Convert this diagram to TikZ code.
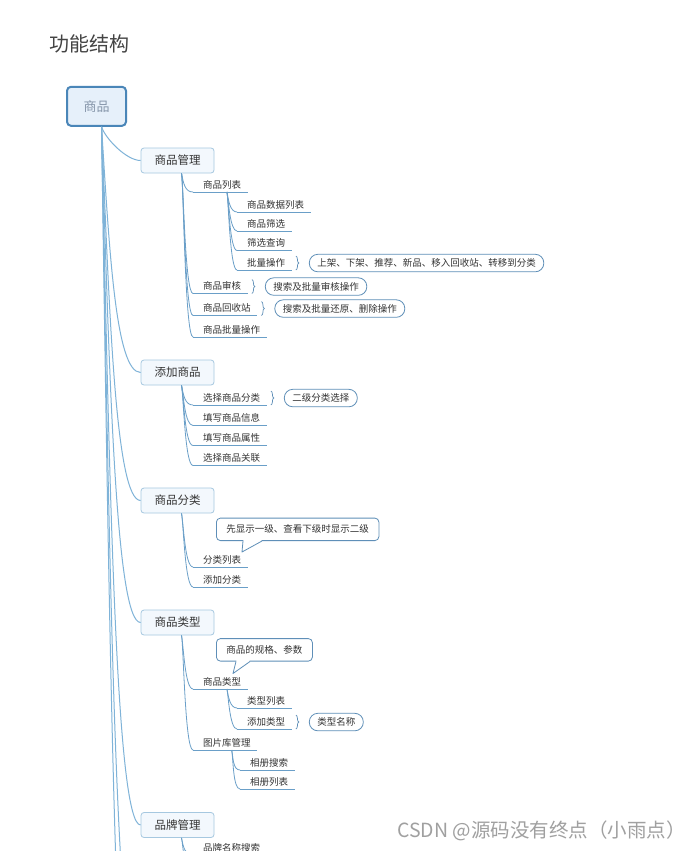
\documentclass[tikz,border=0pt]{standalone}
\usepackage{fontspec}
\setmainfont{Noto Sans CJK SC}
\usetikzlibrary{calc,decorations.pathreplacing}
\newcommand\fsz[1]{\fontsize{#1}{#1}\selectfont}
\definecolor{rootc}{HTML}{4A86B8}
\definecolor{rootfill}{HTML}{E6F0FA}
\definecolor{roottext}{HTML}{8696AA}
\definecolor{topicc}{HTML}{A6C8E0}
\definecolor{topicfill}{HTML}{F3F8FD}
\definecolor{txt}{HTML}{333333}
\definecolor{titlec}{HTML}{444444}
\definecolor{linec}{HTML}{6A9FC8}
\definecolor{rootline}{HTML}{7FB3D8}
\definecolor{pillc}{HTML}{5F8FB8}
\definecolor{wm}{HTML}{A0A0A0}
\tikzset{
  rootbox/.style={draw=rootc, line width=2pt, fill=rootfill, rounded corners=4pt, minimum width=59pt, minimum height=39pt, font=\fsz{13}, text=roottext},
  topic/.style={draw=topicc, line width=0.8pt, fill=topicfill, rounded corners=3pt, minimum width=73pt, minimum height=25pt, font=\fsz{11.5}, text=txt},
  uline/.style={draw=linec, line width=0.8pt},
  item/.style={anchor=south west, inner xsep=0pt, inner ysep=2pt, text height=8pt, text depth=1.5pt, font=\fsz{9.5}, text=txt,
    execute at begin node={\hspace*{10pt}}, execute at end node={\hspace*{6.5pt}},
    append after command={(\tikzlastnode.south west) edge[uline] (\tikzlastnode.south east)}},
  pill/.style={draw=pillc, line width=0.8pt, fill=white, rounded corners=8.5pt, minimum height=17.5pt, inner xsep=8pt, inner ysep=0pt, font=\fsz{9.5}, text=txt, anchor=west},
  callout/.style={draw=pillc, line width=0.8pt, fill=white, rounded corners=4pt, minimum height=22.5pt, inner xsep=10pt, inner ysep=0pt, font=\fsz{9.5}, text=txt, anchor=south west},
  brc/.style={draw=pillc, line width=0.7pt, decorate, decoration={brace, amplitude=3pt}},
  rconn/.style={draw=rootline, line width=1pt},
  conn/.style={draw=linec, line width=0.8pt},
}
\begin{document}
\begin{tikzpicture}[x=1pt,y=-1pt]
\clip (0,0) rectangle (691,851);
\fill[white] (0,0) rectangle (691,851);

\node[anchor=west, font=\fsz{20}, text=titlec, inner sep=0pt] (title) at (49,43.5) {功能结构};

% topics
\node[rootbox] (root) at (96.5,106.3) {商品};
\node[topic] (t1) at (177.5,160.5) {商品管理};
\node[topic] (t2) at (177.5,372.5) {添加商品};
\node[topic] (t3) at (177.5,500.5) {商品分类};
\node[topic] (t4) at (177.5,622.5) {商品类型};
\node[topic] (t5) at (177.5,825) {品牌管理};
\coordinate (more1) at (141,1000);
\coordinate (more2) at (141,1150);

% root connectors
\coordinate (rs) at ($(root.south)+(5,0)$);
\draw[rconn] (rs) .. controls +(4,12) and +(-14,0) .. (t1.west);
\draw[rconn] (rs) .. controls +(8,124) and +(-25,0) .. (t2.west);
\draw[rconn] (rs) .. controls +(8,188) and +(-25,0) .. (t3.west);
\draw[rconn] (rs) .. controls +(8,249) and +(-25,0) .. (t4.west);
\draw[rconn] (rs) .. controls +(8,350) and +(-25,0) .. (t5.west);
\draw[rconn] (rs) .. controls +(8,438) and +(-25,0) .. (more1);
\draw[rconn] (rs) .. controls +(8,512) and +(-25,0) .. (more2);

% items
\node[item] (a1) at (193,192) {商品列表};
\node[item] (a11) at (237,212) {商品数据列表};
\node[item] (a12) at (237,231) {商品筛选};
\node[item] (a13) at (237,250.5) {筛选查询};
\node[item] (a14) at (237,270) {批量操作};
\node[item] (a2) at (193,293.5) {商品审核};
\node[item] (a3) at (193,315.5) {商品回收站};
\node[item] (a4) at (193,337) {商品批量操作};
\node[item] (b1) at (193,405) {选择商品分类};
\node[item] (b2) at (193,425.5) {填写商品信息};
\node[item] (b3) at (193,445.5) {填写商品属性};
\node[item] (b4) at (193,465.5) {选择商品关联};
\node[item] (c1) at (193,567) {分类列表};
\node[item] (c2) at (193,587) {添加分类};
\node[item] (d1) at (193,689) {商品类型};
\node[item] (d11) at (237,708) {类型列表};
\node[item] (d12) at (237,729) {添加类型};
\node[item] (d2) at (193,750) {图片库管理};
\node[item] (d21) at (240,770) {相册搜索};
\node[item] (d22) at (240,789) {相册列表};
\node[item] (e1) at (193,855) {品牌名称搜索};
\coordinate (e2) at (193,880);

% level-2 connectors
\coordinate (s1) at ($(t1.south)+(4,0)$);
\foreach \n in {a1,a2,a3,a4}
  \draw[conn] (s1) .. controls +(2,10) and +(-8,0) .. (\n.south west);
\coordinate (s2) at ($(t2.south)+(4,0)$);
\foreach \n in {b1,b2,b3,b4}
  \draw[conn] (s2) .. controls +(2,10) and +(-8,0) .. (\n.south west);
\coordinate (s3) at ($(t3.south)+(4,0)$);
\foreach \n in {c1,c2}
  \draw[conn] (s3) .. controls +(2,10) and +(-8,0) .. (\n.south west);
\coordinate (s4) at ($(t4.south)+(4,0)$);
\foreach \n in {d1,d2}
  \draw[conn] (s4) .. controls +(2,10) and +(-8,0) .. (\n.south west);
\coordinate (s5) at ($(t5.south)+(4,0)$);
\draw[conn] (s5) .. controls +(2,10) and +(-8,0) .. (e1.south west);
\draw[conn] (s5) .. controls +(2,10) and +(-8,0) .. (e2);

% level-3 connectors
\coordinate (s11) at ($(a1.south)+(6.5,0)$);
\foreach \n in {a11,a12,a13,a14}
  \draw[conn] (s11) .. controls +(1.5,8) and +(-7,0) .. (\n.south west);
\coordinate (s41) at ($(d1.south)+(6.5,0)$);
\foreach \n in {d11,d12}
  \draw[conn] (s41) .. controls +(1.5,8) and +(-7,0) .. (\n.south west);
\coordinate (s42) at ($(d2.south)+(6.5,0)$);
\foreach \n in {d21,d22}
  \draw[conn] (s42) .. controls +(1.5,8) and +(-7,0) .. (\n.south west);

% pills with braces
\node[pill] (p1) at ([xshift=17pt]a14.east) {上架、下架、推荐、新品、移入回收站、转移到分类};
\draw[brc] ([xshift=4pt]a14.north east) -- ([xshift=4pt]a14.south east);
\node[pill] (p2) at ([xshift=17pt]a2.east) {搜索及批量审核操作};
\draw[brc] ([xshift=4pt]a2.north east) -- ([xshift=4pt]a2.south east);
\node[pill] (p3) at ([xshift=17pt]a3.east) {搜索及批量还原、删除操作};
\draw[brc] ([xshift=4pt]a3.north east) -- ([xshift=4pt]a3.south east);
\node[pill] (p4) at ([xshift=17pt]b1.east) {二级分类选择};
\draw[brc] ([xshift=4pt]b1.north east) -- ([xshift=4pt]b1.south east);
\node[pill] (p5) at ([xshift=17pt]d12.east) {类型名称};
\draw[brc] ([xshift=4pt]d12.north east) -- ([xshift=4pt]d12.south east);

% callouts
\node[callout] (k1) at (216,541) {先显示一级、查看下级时显示二级};
\fill[white] ($(k1.south west)+(27.3,-1.5)$) -- ($(k1.south west)+(27.3,0)$) -- ($(k1.south west)+(26,11)$) -- ($(k1.south west)+(45.7,0)$) -- ($(k1.south west)+(45.7,-1.5)$) -- cycle;
\draw[pillc, line width=0.8pt, line join=round] ($(k1.south west)+(27,0)$) -- ($(k1.south west)+(26,11)$) -- ($(k1.south west)+(46,0)$);

\node[callout] (k2) at (216,661.5) {商品的规格、参数};
\fill[white] ($(k2.south west)+(20.3,-1.5)$) -- ($(k2.south west)+(20.3,0)$) -- ($(k2.south west)+(17,12)$) -- ($(k2.south west)+(33.7,0)$) -- ($(k2.south west)+(33.7,-1.5)$) -- cycle;
\draw[pillc, line width=0.8pt, line join=round] ($(k2.south west)+(20,0)$) -- ($(k2.south west)+(17,12)$) -- ($(k2.south west)+(34,0)$);

% watermark
\node[anchor=west, font=\fsz{19.5}, text=wm, inner sep=0pt] (wmk) at (397,831) {CSDN @源码没有终点（小雨点）};
\end{tikzpicture}
\end{document}
